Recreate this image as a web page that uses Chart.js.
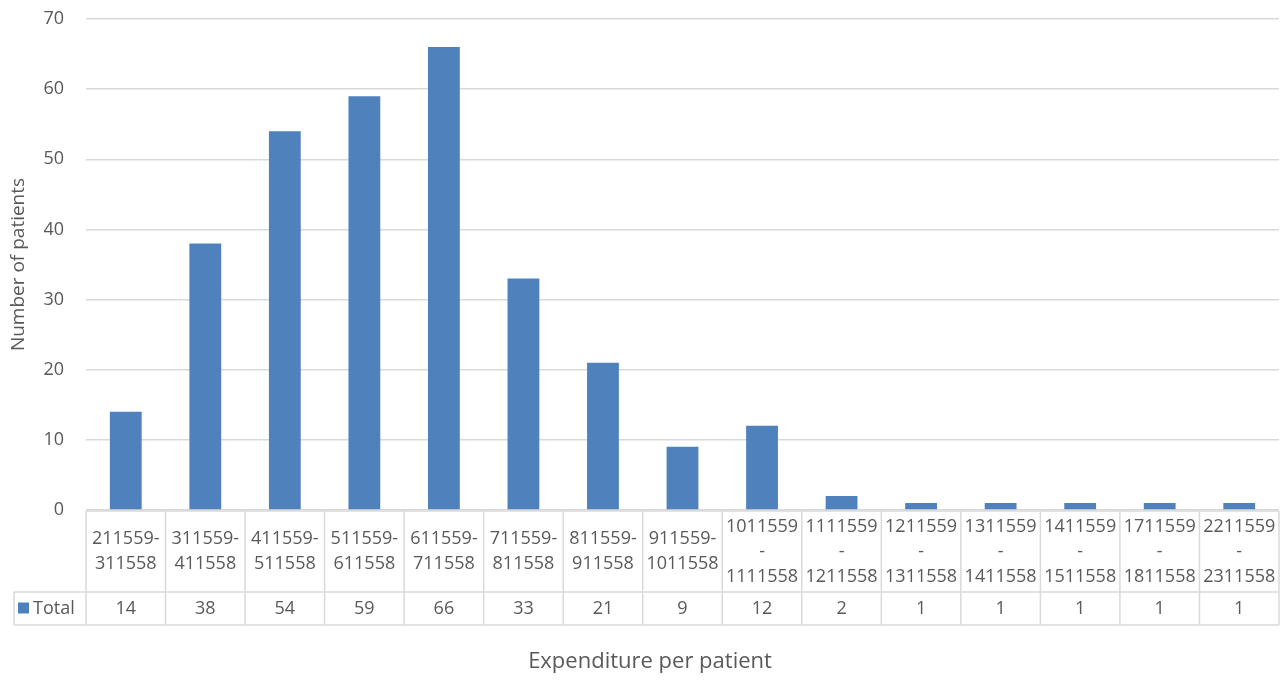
<!DOCTYPE html>
<html>
<head>
<meta charset="utf-8">
<script src="https://cdn.jsdelivr.net/npm/chart.js@4/dist/chart.umd.min.js"></script>
<style>
  html, body { margin: 0; padding: 0; background: #fff; }
  #wrap { width: 1283px; height: 680px; position: relative; }
</style>
</head>
<body>
<div id="wrap"><canvas id="expChart"></canvas></div>
<script>
// expenditure ranges, each entry is the lines shown in the data table header
const categories = [
    ['211559-', '311558'],
    ['311559-', '411558'],
    ['411559-', '511558'],
    ['511559-', '611558'],
    ['611559-', '711558'],
    ['711559-', '811558'],
    ['811559-', '911558'],
    ['911559-', '1011558'],
    ['1011559', '-', '1111558'],
    ['1111559', '-', '1211558'],
    ['1211559', '-', '1311558'],
    ['1311559', '-', '1411558'],
    ['1411559', '-', '1511558'],
    ['1711559', '-', '1811558'],
    ['2211559', '-', '2311558']
];
const totals = [14, 38, 54, 59, 66, 33, 21, 9, 12, 2, 1, 1, 1, 1, 1];
const seriesName = 'Total';
const yTicks = [0, 10, 20, 30, 40, 50, 60, 70];
const yTitle = 'Number of patients';
const xTitle = 'Expenditure per patient';

const FONT = '"Open Sans", "Noto Sans", sans-serif';
const TEXT = '#595959';
const GRID = '#d9d9d9';
const BAR = '#4f81bd';

// draws the Excel style data table under the plot, using the x scale for the columns
const dataTable = {
    id: 'dataTable',
    afterDraw(chart) {
        const ctx = chart.ctx;
        const x = chart.scales.x;
        const area = chart.chartArea;
        const n = categories.length;
        const colW = (area.right - area.left) / n;
        const headTop = area.bottom + 1;
        const headBottom = headTop + 81;
        const valBottom = headBottom + 33;
        const legendLeft = 14;

        ctx.save();
        ctx.strokeStyle = GRID;
        ctx.lineWidth = 1.5;
        ctx.beginPath();
        // horizontal lines
        ctx.moveTo(area.left, headTop); ctx.lineTo(area.right, headTop);
        ctx.moveTo(legendLeft, headBottom); ctx.lineTo(area.right, headBottom);
        ctx.moveTo(legendLeft, valBottom); ctx.lineTo(area.right, valBottom);
        // vertical lines
        ctx.moveTo(legendLeft, headBottom); ctx.lineTo(legendLeft, valBottom);
        for (let i = 0; i <= n; i++) {
            const px = area.left + i * colW;
            ctx.moveTo(px, headTop); ctx.lineTo(px, valBottom);
        }
        ctx.stroke();

        ctx.fillStyle = TEXT;
        ctx.font = '18px ' + FONT;
        ctx.textAlign = 'center';
        ctx.textBaseline = 'middle';
        const lineH = 25;
        const headMid = (headTop + headBottom) / 2;
        const valMid = (headBottom + valBottom) / 2;
        categories.forEach((lines, i) => {
            const cx = x.getPixelForValue(i);
            const start = headMid - (lines.length - 1) * lineH / 2;
            lines.forEach((t, j) => ctx.fillText(t, cx, start + j * lineH));
            ctx.fillText(String(totals[i]), cx, valMid);
        });

        // legend key in the first cell
        ctx.fillStyle = BAR;
        ctx.fillRect(18, valMid - 6, 11, 11);
        ctx.fillStyle = TEXT;
        ctx.textAlign = 'left';
        ctx.fillText(seriesName, 33, valMid);

        // horizontal axis title
        ctx.textAlign = 'center';
        ctx.font = '22px ' + FONT;
        ctx.fillText(xTitle, 650, 662);
        ctx.restore();
    }
};

new Chart(document.getElementById('expChart'), {
    type: 'bar',
    data: {
        labels: categories.map(l => l.join('')),
        datasets: [{
            label: seriesName,
            data: totals,
            backgroundColor: BAR,
            barPercentage: 0.4,
            categoryPercentage: 1.0
        }]
    },
    options: {
        responsive: true,
        maintainAspectRatio: false,
        animation: false,
        layout: { padding: { top: 19, right: 4, bottom: 170, left: 0 } },
        plugins: {
            legend: { display: false },
            tooltip: { enabled: false }
        },
        scales: {
            x: {
                display: false
            },
            y: {
                min: 0,
                max: 70,
                afterBuildTicks(scale) {
                    scale.ticks = yTicks.map(v => ({ value: v }));
                },
                afterFit(scale) {
                    scale.width = 86;
                    scale.paddingTop = 0;
                    scale.paddingBottom = 0;
                },
                grid: { color: GRID, lineWidth: 1.5, drawTicks: false },
                border: { display: false },
                ticks: {
                    color: TEXT,
                    padding: 22,
                    font: { family: FONT, size: 18 }
                },
                title: {
                    display: true,
                    text: yTitle,
                    color: TEXT,
                    padding: { top: 7, bottom: 0 },
                    font: { family: FONT, size: 19 }
                }
            }
        }
    },
    plugins: [dataTable]
});
</script>
</body>
</html>
